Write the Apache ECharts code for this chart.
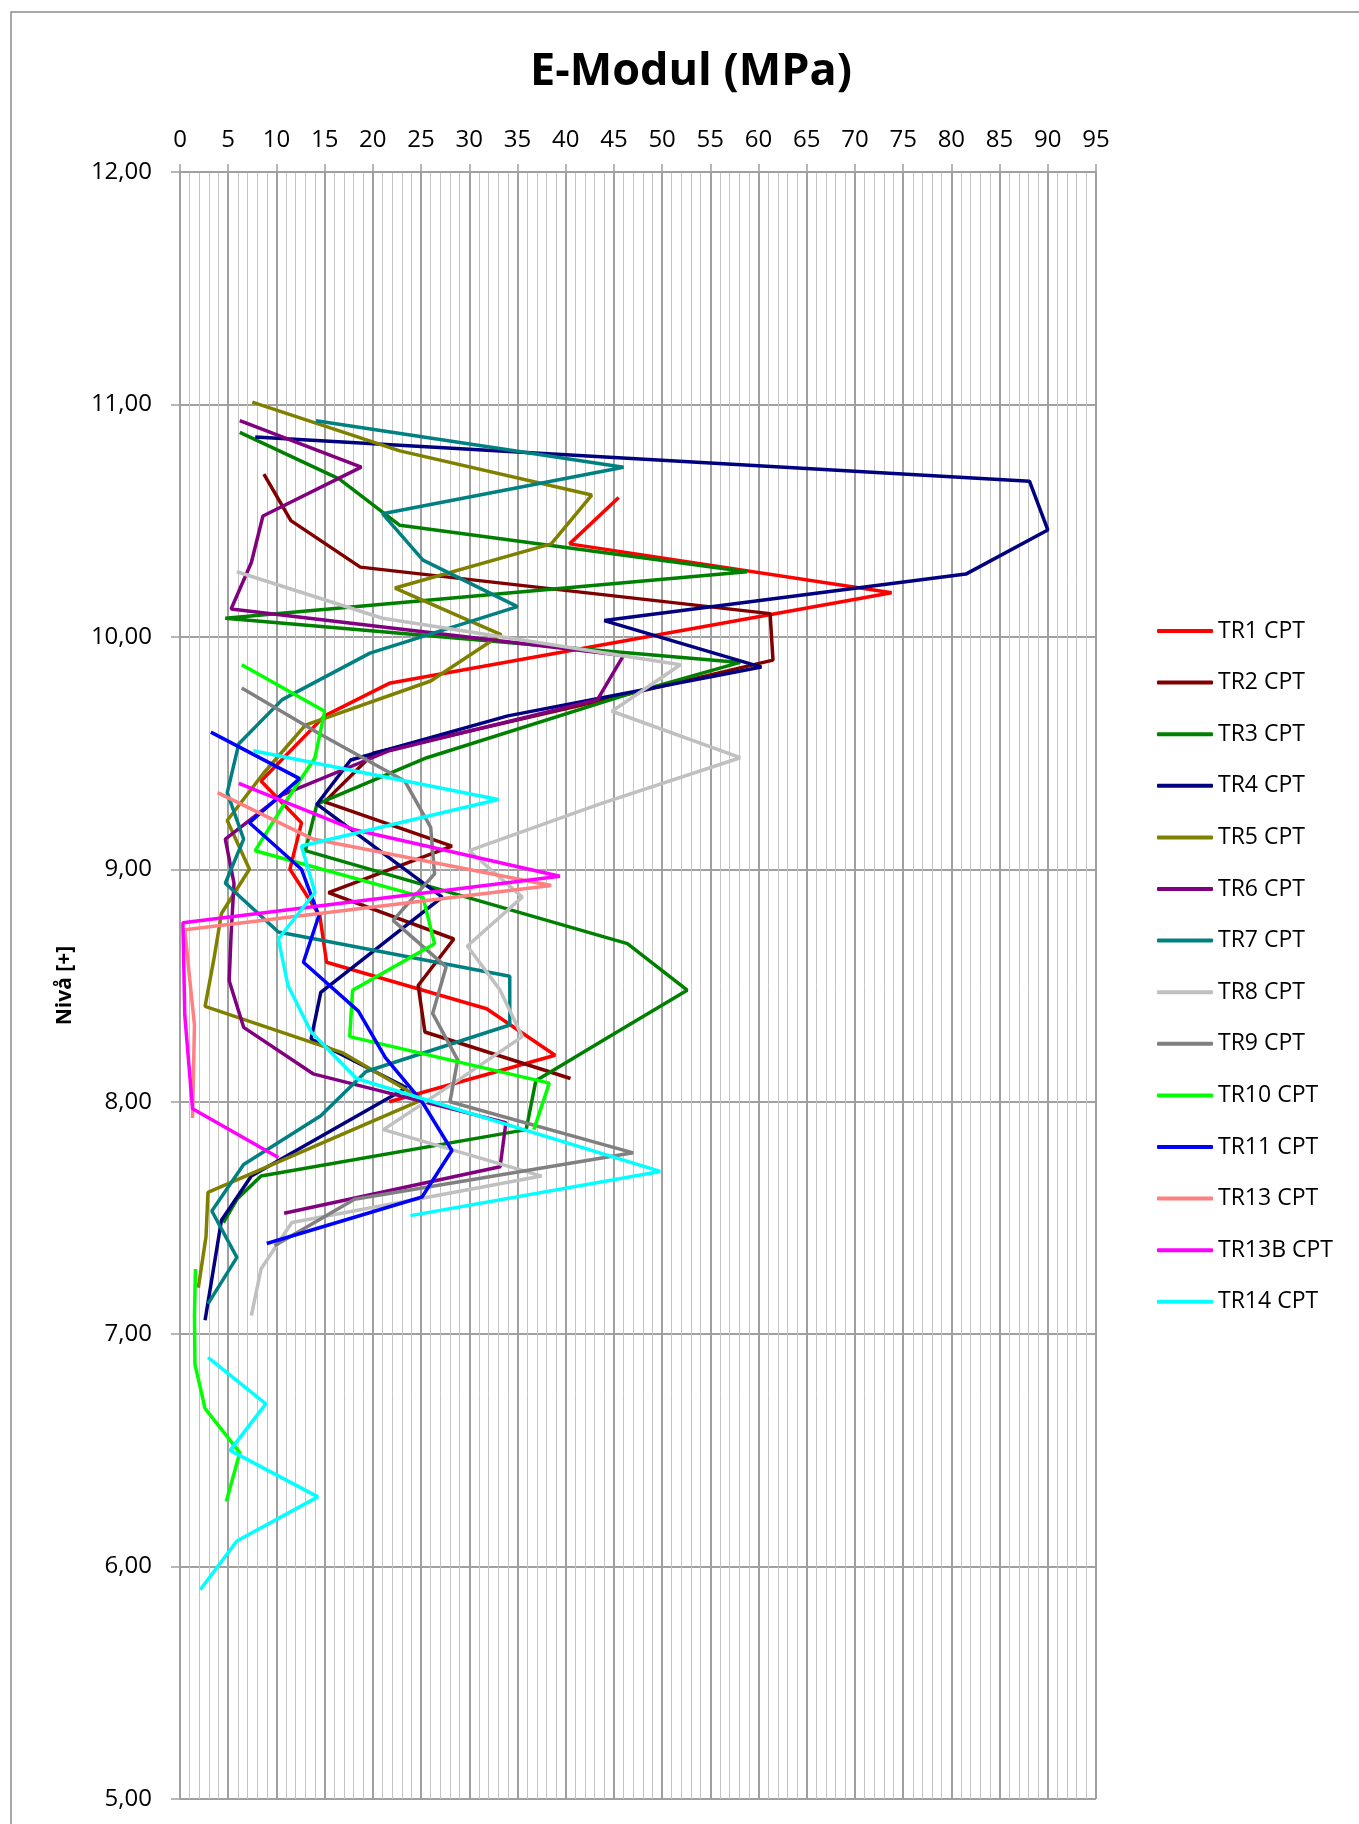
<!DOCTYPE html>
<html>
<head>
<meta charset="utf-8">
<title>E-Modul (MPa)</title>
<script src="https://cdn.jsdelivr.net/npm/echarts@6/dist/echarts.min.js"></script>
<style>
  html, body { margin: 0; padding: 0; background: #fff; }
  #chart { width: 1359px; height: 1824px; }
</style>
</head>
<body>
<div id="chart"></div>
<script>
// E-Modul (MPa) per nivå, [E-modul, nivå]
var names = ['TR1 CPT', 'TR2 CPT', 'TR3 CPT', 'TR4 CPT', 'TR5 CPT', 'TR6 CPT', 'TR7 CPT',
  'TR8 CPT', 'TR9 CPT', 'TR10 CPT', 'TR11 CPT', 'TR13 CPT', 'TR13B CPT', 'TR14 CPT'];
var colors = ['#ff0000', '#800000', '#008000', '#000080', '#808000', '#800080', '#008080',
  '#c0c0c0', '#808080', '#00ff00', '#0000ff', '#ff8080', '#ff00ff', '#00ffff'];

var tr1 = [[45.5, 10.60], [40.4, 10.40], [73.8, 10.19], [21.7, 9.80], [15.0, 9.66], [8.4, 9.38],
  [12.6, 9.20], [11.4, 9.00], [14.5, 8.80], [15.2, 8.60], [31.8, 8.40], [38.9, 8.20], [21.7, 8.00]];
var tr2 = [[8.7, 10.70], [11.5, 10.50], [18.7, 10.30], [61.2, 10.10], [61.5, 9.90], [41.0, 9.70],
  [20.1, 9.50], [15.0, 9.29], [28.2, 9.10], [15.4, 8.90], [28.4, 8.70], [24.7, 8.50], [25.4, 8.30], [40.5, 8.10]];
var tr3 = [[6.2, 10.88], [16.5, 10.68], [22.8, 10.48], [58.8, 10.28], [4.7, 10.08], [58.1, 9.89],
  [47.0, 9.76], [25.6, 9.48], [14.2, 9.28], [13.0, 9.08], [46.4, 8.68], [52.6, 8.48], [44.5, 8.28],
  [36.9, 8.09], [35.9, 7.88], [8.4, 7.68], [5.9, 7.58], [4.5, 7.48]];
var tr4 = [[7.8, 10.86], [88.1, 10.67], [90.0, 10.46], [81.5, 10.27], [44.0, 10.07], [60.3, 9.87],
  [34.0, 9.66], [17.7, 9.47], [14.2, 9.28], [27.2, 8.88], [14.6, 8.47], [13.6, 8.27], [23.5, 8.06],
  [7.4, 7.68], [4.3, 7.49], [2.6, 7.06]];
var tr5 = [[7.5, 11.01], [22.8, 10.80], [42.7, 10.61], [38.5, 10.40], [22.3, 10.21], [33.3, 10.01],
  [26.0, 9.81], [13.0, 9.62], [8.6, 9.41], [4.9, 9.21], [7.2, 9.00], [4.3, 8.81], [3.5, 8.61],
  [2.6, 8.41], [16.9, 8.21], [25.2, 8.01], [2.9, 7.61], [2.7, 7.42], [1.9, 7.20]];
var tr6 = [[6.2, 10.93], [18.8, 10.73], [8.6, 10.52], [7.4, 10.32], [5.3, 10.12], [46.0, 9.92],
  [43.3, 9.73], [21.7, 9.51], [10.6, 9.32], [4.7, 9.13], [5.6, 8.94], [5.3, 8.72], [5.1, 8.52],
  [6.6, 8.32], [13.8, 8.12], [33.8, 7.91], [33.2, 7.72], [10.8, 7.52]];
var tr7 = [[14.1, 10.93], [46.0, 10.73], [21.0, 10.53], [25.2, 10.33], [35.0, 10.13], [19.7, 9.93],
  [10.6, 9.73], [6.1, 9.54], [4.9, 9.33], [6.6, 9.13], [4.7, 8.94], [10.2, 8.73], [34.2, 8.54],
  [34.2, 8.33], [19.3, 8.13], [14.6, 7.94], [6.6, 7.73], [3.3, 7.53], [5.9, 7.33], [2.9, 7.13]];
var tr8 = [[5.9, 10.28], [21.0, 10.08], [51.9, 9.88], [44.8, 9.68], [58.1, 9.48], [43.5, 9.28],
  [30.0, 9.08], [35.5, 8.88], [29.8, 8.67], [33.2, 8.48], [35.5, 8.28], [28.4, 8.08], [21.1, 7.88],
  [37.5, 7.68], [11.6, 7.48], [8.4, 7.28], [7.4, 7.08]];
var tr9 = [[6.4, 9.78], [14.6, 9.58], [23.3, 9.38], [26.0, 9.18], [26.4, 8.98], [22.1, 8.78],
  [27.6, 8.58], [26.2, 8.38], [28.8, 8.18], [28.0, 8.00], [47.0, 7.78], [18.1, 7.58], [9.8, 7.38]];
var tr10 = [[6.4, 9.88], [15.0, 9.68], [14.0, 9.48], [10.8, 9.28], [7.8, 9.08], [25.2, 8.88],
  [26.4, 8.68], [17.9, 8.48], [17.6, 8.28], [38.3, 8.08], [36.7, 7.88], ['-', '-'],
  [1.6, 7.28], [1.5, 7.08], [1.55, 6.87], [2.6, 6.68], [6.2, 6.49], [4.8, 6.28]];
var tr11 = [[3.2, 9.59], [12.4, 9.39], [7.2, 9.20], [12.6, 9.00], [14.4, 8.80], [12.8, 8.60],
  [18.5, 8.39], [21.3, 8.19], [25.1, 8.00], [28.2, 7.79], [25.1, 7.59], [9.0, 7.39]];
var tr13 = [[3.9, 9.33], [13.8, 9.13], [38.5, 8.93], [0.5, 8.74], [1.0, 8.53], [1.5, 8.33],
  [1.4, 8.13], [1.3, 7.93]];
var tr13b = [[6.1, 9.37], [18.1, 9.17], [39.4, 8.97], [0.3, 8.77], [0.4, 8.57], [0.5, 8.37],
  [0.9, 8.17], [1.3, 7.97], [10.2, 7.76]];
var tr14 = [[7.6, 9.51], [33.0, 9.30], [12.6, 9.10], [14.0, 8.90], [10.2, 8.70], [11.2, 8.50],
  [13.6, 8.30], [18.3, 8.10], [49.8, 7.70], [23.9, 7.51], ['-', '-'],
  [2.9, 6.90], [8.9, 6.70], [5.2, 6.50], [14.3, 6.30], [5.9, 6.11], [2.1, 5.90]];

var allData = [tr1, tr2, tr3, tr4, tr5, tr6, tr7, tr8, tr9, tr10, tr11, tr13, tr13b, tr14];

var chart = echarts.init(document.getElementById('chart'), null, { renderer: 'canvas' });

var series = names.map(function (n, i) {
  return {
    name: n,
    type: 'line',
    data: allData[i],
    showSymbol: false,
    symbol: 'none',
    connectNulls: false,
    color: colors[i],
    lineStyle: { width: 3.5, color: colors[i] },
    animation: false
  };
});

var option = {
  backgroundColor: '#ffffff',
  animation: false,
  graphic: [
    {
      type: 'rect',
      shape: { x: 11, y: 12, width: 1400, height: 1900 },
      style: { fill: 'none', stroke: '#8c8c8c', lineWidth: 1.5 }
    },
    {
      type: 'text',
      x: 691,
      y: 72,
      style: {
        text: 'E-Modul (MPa)',
        font: 'bold 45px "Open Sans"',
        fill: '#000',
        textAlign: 'center',
        textVerticalAlign: 'middle'
      }
    }
  ],
  legend: {
    orient: 'vertical',
    left: 1152,
    top: 614,
    itemWidth: 56,
    itemHeight: 4,
    itemGap: 27.6,
    icon: 'roundRect',
    textStyle: { fontFamily: 'Open Sans', fontSize: 23, color: '#000', lineHeight: 24 },
    data: names
  },
  grid: { left: 180, right: 263, top: 172, bottom: 25 },
  xAxis: {
    type: 'value',
    position: 'top',
    min: 0,
    max: 95,
    interval: 5,
    axisLine: { show: true, lineStyle: { color: '#a0a0a0', width: 2 } },
    axisTick: { show: true, inside: false, length: 8, lineStyle: { color: '#a0a0a0', width: 1.5 } },
    axisLabel: { fontFamily: 'Open Sans', fontSize: 24, color: '#000', margin: 20 },
    splitLine: { show: true, lineStyle: { color: '#a0a0a0', width: 2 } },
    minorTick: { show: false, splitNumber: 5 },
    minorSplitLine: { show: true, lineStyle: { color: '#c4c4c4', width: 1 } }
  },
  yAxis: {
    type: 'value',
    min: 5,
    max: 12,
    interval: 1,
    name: 'Nivå [+]',
    nameLocation: 'middle',
    nameRotate: 90,
    nameGap: 104,
    nameTextStyle: { fontFamily: 'Open Sans', fontWeight: 'bold', fontSize: 21, color: '#000' },
    axisLine: { show: true, lineStyle: { color: '#a0a0a0', width: 2 } },
    axisTick: { show: true, inside: false, length: 9, lineStyle: { color: '#a0a0a0', width: 1.5 } },
    axisLabel: {
      fontFamily: 'Open Sans', fontSize: 24, color: '#000', margin: 28,
      formatter: function (v) { return v.toFixed(2).replace('.', ','); }
    },
    splitLine: { show: true, lineStyle: { color: '#a0a0a0', width: 2 } }
  },
  series: series
};

chart.setOption(option);
</script>
</body>
</html>
